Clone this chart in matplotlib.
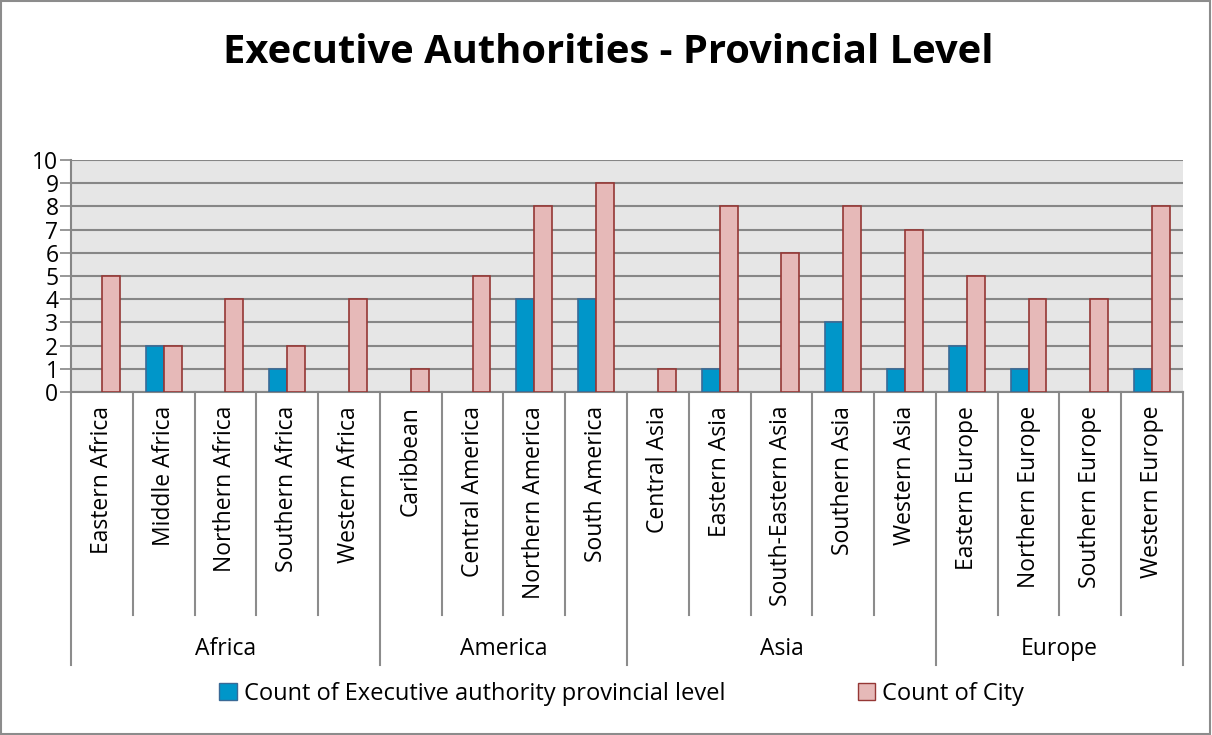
import matplotlib.pyplot as plt
from matplotlib.patches import Patch, Rectangle
import numpy as np

plt.rcParams['font.family'] = ['Open Sans', 'DejaVu Sans']

regions = ["Eastern Africa", "Middle Africa", "Northern Africa", "Southern Africa", "Western Africa",
           "Caribbean", "Central America", "Northern America", "South America",
           "Central Asia", "Eastern Asia", "South-Eastern Asia", "Southern Asia", "Western Asia",
           "Eastern Europe", "Northern Europe", "Southern Europe", "Western Europe"]
continents = ["Africa", "America", "Asia", "Europe"]
group_sizes = [5, 4, 5, 4]
exec_auth = [0, 2, 0, 1, 0, 0, 0, 4, 4, 0, 1, 0, 3, 1, 2, 1, 0, 1]
city = [5, 2, 4, 2, 4, 1, 5, 8, 9, 1, 8, 6, 8, 7, 5, 4, 4, 8]

blue = "#0096c9"
blue_edge = "#3a6a96"
pink = "#e6b9b8"
pink_edge = "#953735"

fig = plt.figure(figsize=(12.12, 7.35), dpi=100)
fig.patches.append(Rectangle((0.001, 0.001), 0.997, 0.997, transform=fig.transFigure,
                             fill=False, edgecolor="#8c8c8c", linewidth=1.5))
ax = fig.add_axes([71 / 1212, 1 - 392 / 735, (1183 - 71) / 1212, (392 - 160) / 735])
ax.set_facecolor("#e6e6e6")

x = np.arange(len(regions))
w = 0.29
ea = np.array(exec_auth, dtype=float)
mask = ea > 0
ax.bar(x[mask] - w / 2, ea[mask], width=w, color=blue, edgecolor=blue_edge, linewidth=1.2, zorder=3)
ax.bar(x + w / 2, city, width=w, color=pink, edgecolor=pink_edge, linewidth=1.2, zorder=3)

ax.set_xlim(-0.5, len(regions) - 0.5)
ax.set_ylim(0, 10)
ax.set_yticks(range(0, 11))
ax.tick_params(axis='y', labelsize=16.5, length=8, color="#868686", width=1.2, pad=1)
ax.grid(axis='y', color="#868686", linewidth=1.5, zorder=1)
ax.set_axisbelow(True)
for s in ["top", "right"]:
    ax.spines[s].set_visible(False)
for s in ["left", "bottom"]:
    ax.spines[s].set_color("#868686")
    ax.spines[s].set_linewidth(1.5)

ax.set_xticks([])
tr = ax.get_xaxis_transform()
for i, name in enumerate(regions):
    ax.text(i, -0.06, name, rotation=90, ha='center', va='top', fontsize=16.5, transform=tr)

# category separators
bounds = np.concatenate([[0], np.cumsum(group_sizes)])
for b in range(len(regions) + 1):
    yb = -1.177 if b in bounds else -0.961
    ax.plot([b - 0.5, b - 0.5], [0, yb], transform=tr, color="#8c8c8c", linewidth=1.5, clip_on=False)
for g, name in enumerate(continents):
    c = (bounds[g] + bounds[g + 1] - 1) / 2
    ax.text(c, -1.107, name, ha='center', va='center', fontsize=16.5, transform=tr)

fig.text(0.502, 0.929, "Executive Authorities - Provincial Level", ha='center', va='center',
         fontsize=28.7, fontweight='bold')

handles = [Patch(facecolor=blue, edgecolor=blue_edge), Patch(facecolor=pink, edgecolor=pink_edge)]
fig.legend(handles, ["Count of Executive authority provincial level", "Count of City"],
           loc='center', bbox_to_anchor=(0.513, 0.056), ncol=2, frameon=False, fontsize=17,
           handlelength=0.75, handleheight=0.75, handletextpad=0.3, columnspacing=5.6)

fig.savefig("out.png", dpi=100)
